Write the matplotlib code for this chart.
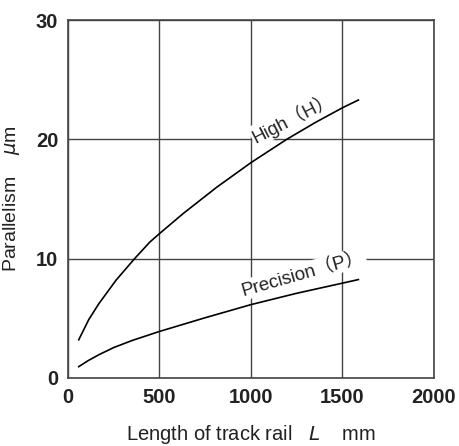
import matplotlib
matplotlib.use("Agg")
import matplotlib.pyplot as plt

# values
high_x = [59, 114, 170, 263, 364, 448, 500, 631, 814, 1000, 1195, 1350, 1500, 1587]
high_y = [3.2, 4.9, 6.25, 8.2, 10.0, 11.4, 12.1, 13.8, 16.0, 18.05, 20.0, 21.4, 22.65, 23.3]
prec_x = [59, 110, 169, 250, 352, 500, 750, 1000, 1250, 1500, 1587]
prec_y = [0.95, 1.45, 1.95, 2.55, 3.15, 3.9, 5.05, 6.15, 7.1, 7.95, 8.25]

x_ticks = [0, 500, 1000, 1500, 2000]
y_ticks = [0, 10, 20, 30]

plt.rcParams['font.family'] = ['Liberation Sans', 'Noto Sans CJK JP', 'DejaVu Sans']

fig = plt.figure(figsize=(4.59, 4.46), dpi=100)
ax = fig.add_axes([0.148, 0.1525, 0.7975, 0.8025])

ax.plot(high_x, high_y, color='black', lw=1.2, zorder=4)
ax.plot(prec_x, prec_y, color='black', lw=1.2, zorder=4)

ax.set_xlim(0, 2000)
ax.set_ylim(0, 30)
ax.set_xticks(x_ticks)
ax.set_yticks(y_ticks)
ax.grid(True, color='#444444', lw=1.0, zorder=1)
ax.set_axisbelow(True)
ax.tick_params(length=0, labelsize=14.5, pad=7)
for lab in ax.get_xticklabels() + ax.get_yticklabels():
    lab.set_fontweight('bold')
    lab.set_color('#222222')
for s in ax.spines.values():
    s.set_color('#444444')
    s.set_linewidth(1.2)

ax.text(1035, 19.4, 'High（H）', rotation=27, fontsize=13.5, color='#222222',
        ha='left', va='bottom', rotation_mode='anchor', zorder=3,
        bbox=dict(facecolor='white', edgecolor='none', pad=1))
ax.text(965, 6.6, 'Precision（P）', rotation=16, fontsize=13.5, color='#222222',
        ha='left', va='bottom', rotation_mode='anchor', zorder=3,
        bbox=dict(facecolor='white', edgecolor='none', pad=1))

ax.set_xlabel('Length of track rail   $\\mathit{L}$    mm', fontsize=14.5, labelpad=12, color='#222222')
ax.set_ylabel('Parallelism    $\\mathit{\\mu}$m', fontsize=14, color='#222222')
ax.yaxis.set_label_coords(-0.125, 0.5)

fig.savefig('out.png', dpi=100)
